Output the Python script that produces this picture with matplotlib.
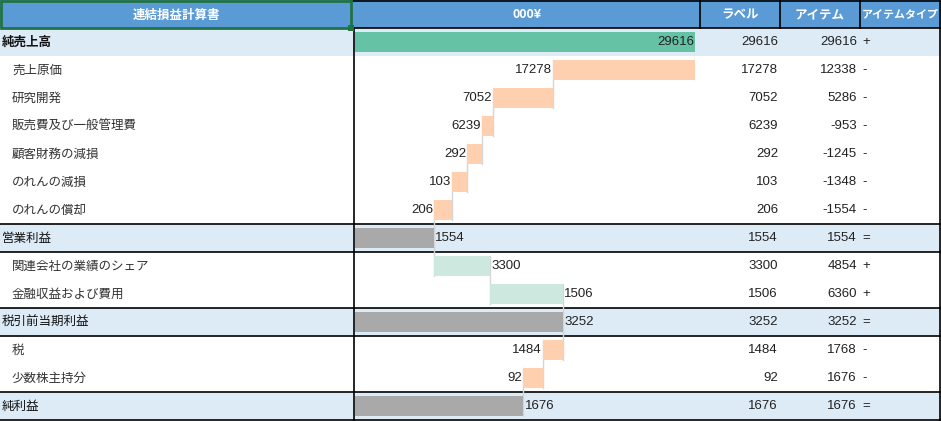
import matplotlib.pyplot as plt
from matplotlib.patches import Rectangle

plt.rcParams['font.family'] = ['Noto Sans CJK JP', 'DejaVu Sans']

# data read from the sheet
names = ['純売上高', '売上原価', '研究開発', '販売費及び一般管理費', '顧客財務の減損',
         'のれんの減損', 'のれんの償却', '営業利益', '関連会社の業績のシェア',
         '金融収益および費用', '税引前当期利益', '税', '少数株主持分', '純利益']
labels = [29616, 17278, 7052, 6239, 292, 103, 206, 1554, 3300, 1506, 3252, 1484, 92, 1676]
items = [29616, 12338, 5286, -953, -1245, -1348, -1554, 1554, 4854, 6360, 3252, 1768, 1676, 1676]
types = ['+', '-', '-', '-', '-', '-', '-', '=', '+', '+', '=', '-', '-', '=']
headers = ['連結損益計算書', '000¥', 'ラベル', 'アイテム', 'アイテムタイプ']

W, H = 941, 421
ROW = 28
n = len(names)

fig = plt.figure(figsize=(W / 100, H / 100), dpi=100)
tab = fig.add_axes([0, 0, 1, 1])
tab.set_xlim(0, W)
tab.set_ylim(H, 0)
tab.set_axis_off()

num_font = dict(family=['Liberation Sans', 'DejaVu Sans'], fontsize=9.5, color='#222222')

# header
tab.add_patch(Rectangle((0, 0), W, ROW, color='#5b9bd5', lw=0))
tab.plot([351, W], [0.5, 0.5], color='black', lw=1.2)
for xv in [700, 780, 860, 940]:
    tab.plot([xv, xv], [0, ROW], color='black', lw=1.2)
hx = [176, 527, 740, 820]
for x, h in zip(hx, headers[:4]):
    tab.text(x, ROW / 2 + 1, h, color='white', fontsize=9, fontweight='bold', ha='center', va='center')
tab.text(862, ROW / 2 + 1, headers[4], color='white', fontsize=7.9, fontweight='bold',
         ha='left', va='center')

# rows
for i in range(n):
    y0 = ROW + ROW * i
    yc = y0 + ROW / 2
    total = types[i] == '=' or i == 0
    if total:
        tab.add_patch(Rectangle((0, y0), W, ROW, color='#ddebf7', lw=0, zorder=0))
        tab.text(2, yc, names[i], fontsize=9, color='#111111', va='center',
                 fontweight='bold' if i == 0 else 'normal')
    else:
        tab.text(12, yc, names[i], fontsize=9, color='#333333', va='center')
    tab.text(778, yc, str(labels[i]), ha='right', va='center', **num_font)
    tab.text(857, yc, str(items[i]), ha='right', va='center', **num_font)
    tab.text(862, yc, types[i], ha='left', va='center', **num_font)
    if types[i] == '=':
        for yy in (y0, y0 + ROW):
            tab.plot([0, W], [yy, yy], color='black', lw=1.2)

tab.plot([351, W], [ROW, ROW], color='black', lw=1.2)
tab.plot([354, 354], [ROW, H], color='black', lw=1.2)
tab.plot([940, 940], [ROW, H], color='black', lw=1.2)

# selected cell border
tab.add_patch(Rectangle((1, 1), 350, ROW - 1, fill=False, ec='#217346', lw=2, zorder=5))
tab.add_patch(Rectangle((348, ROW - 3), 6, 6, color='#217346', lw=0, zorder=6))

# waterfall
ax = fig.add_axes([355 / W, 1 / H, (695 - 355) / W, (n * ROW) / H])
ax.patch.set_alpha(0)
ax.set_xlim(0, items[0])
ax.set_ylim(n - 0.5, -0.5)
ax.set_axis_off()

pos = 0
ends = []
for i in range(n):
    v = abs(items[i])
    if types[i] == '+':
        start, end = pos, pos + v
        pos = end
        color = '#66c2a5' if i == 0 else '#cce8df'
    elif types[i] == '-':
        start, end = pos - v, pos
        pos = start
        color = '#ffd0b0'
    else:
        start, end = 0, pos
        color = '#a9a9a9'
    ends.append(pos)
    ax.barh(i, end - start, left=start, height=0.68, color=color, zorder=2)
    if types[i] == '-':
        ax.text(start - 100, i, str(labels[i]), ha='right', va='center', zorder=3, **num_font)
    elif end >= items[0]:
        ax.text(end - 100, i, str(labels[i]), ha='right', va='center', zorder=3, **num_font)
    else:
        ax.text(end + 100, i, str(labels[i]), ha='left', va='center', zorder=3, **num_font)

for i in range(n - 1):
    ax.plot([ends[i], ends[i]], [i - 0.34, i + 1 + 0.34], color='#d6d6d6', lw=1, zorder=1)

fig.savefig('out.png', dpi=100)
